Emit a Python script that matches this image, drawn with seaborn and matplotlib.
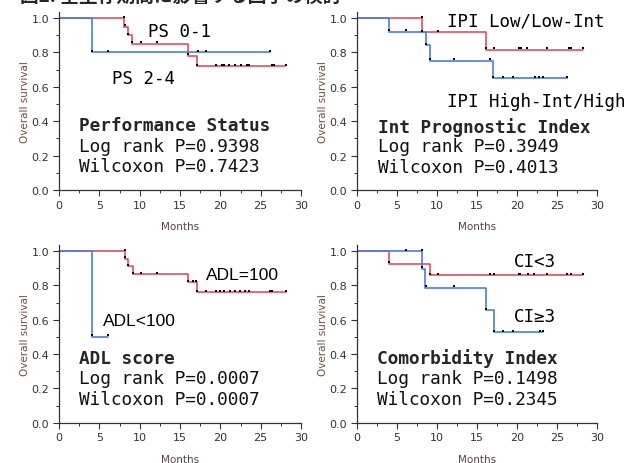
import numpy as np
import pandas as pd
import seaborn as sns
import matplotlib.pyplot as plt
from matplotlib.ticker import MultipleLocator
from matplotlib.transforms import offset_copy

# Kaplan-Meier curves (months, survival), steps-post
ps01_t = [0, 8.1, 8.55, 9.1, 16.05, 17.05, 28.0]
ps01_s = [1.0, 0.95, 0.90, 0.85, 0.78, 0.72, 0.72]
ps01_ct = [8.1, 8.2, 8.6, 9.1, 10.2, 12.1, 16.05, 17.05, 19.5, 20.2, 20.4,
           21.1, 21.8, 22.6, 23.3, 23.6, 26.4, 26.6, 28.1]
ps01_cs = [1.0, 0.95, 0.90, 0.85, 0.85, 0.85, 0.78] + [0.72] * 12
ps24_t = [0, 4.1, 26.1]
ps24_s = [1.0, 0.80, 0.80]
ps24_ct = [4.1, 6.1, 17.2, 18.2, 26.1]
ps24_cs = [0.80] * 5

ipilo_t = [0, 8.15, 16.1, 28.2]
ipilo_s = [1.0, 0.917, 0.816, 0.816]
ipilo_ct = [8.15, 8.15, 10.1, 16.1, 17.1, 20.3, 20.5, 21.3, 23.7, 26.5, 26.7, 28.2]
ipilo_cs = [1.0, 0.917, 0.917] + [0.816] * 9
ipihi_t = [0, 4.05, 8.6, 9.1, 17.0, 26.2]
ipihi_s = [1.0, 0.92, 0.843, 0.752, 0.649, 0.649]
ipihi_ct = [4.05, 6.1, 8.6, 9.1, 12.1, 16.7, 17.0, 18.3, 19.5, 22.2, 22.8, 23.3, 26.2]
ipihi_cs = [0.92, 0.92, 0.843, 0.752, 0.752, 0.752] + [0.649] * 7

adl100_t = [0, 8.14, 8.6, 9.13, 16.0, 17.06, 28.1]
adl100_s = [1.0, 0.955, 0.911, 0.864, 0.819, 0.759, 0.759]
adl100_ct = [8.14, 8.2, 8.6, 9.13, 10.2, 12.1, 16.0, 16.65, 17.0, 17.06, 18.2, 19.5,
             20.0, 20.4, 21.2, 21.8, 22.4, 23.0, 23.5, 26.1, 26.4, 28.1]
adl100_cs = [1.0, 0.955, 0.911, 0.864, 0.864, 0.864, 0.819, 0.819, 0.819] + [0.759] * 13
adllow_t = [0, 4.13, 6.1]
adllow_s = [1.0, 0.5, 0.5]
adllow_ct = [4.13, 6.1]
adllow_cs = [0.5, 0.5]

cilo_t = [0, 4.03, 9.1, 28.2]
cilo_s = [1.0, 0.926, 0.858, 0.858]
cilo_ct = [4.03, 9.1, 10.2, 16.7, 17.2, 20.2, 20.4, 21.4, 22.1, 23.7, 26.3, 26.7, 28.2]
cilo_cs = [0.926] + [0.858] * 12
cihi_t = [0, 8.15, 8.5, 16.1, 17.1, 23.3]
cihi_s = [1.0, 0.897, 0.785, 0.655, 0.528, 0.528]
cihi_ct = [6.1, 8.15, 8.15, 8.6, 12.1, 16.1, 17.1, 18.3, 19.5, 22.9, 23.3]
cihi_cs = [1.0, 1.0, 0.897, 0.785, 0.785, 0.655] + [0.528] * 5

titles = ['Performance Status', 'Int Prognostic Index', 'ADL score', 'Comorbidity Index']
logrank = ['0.9398', '0.3949', '0.0007', '0.1498']
wilcoxon = ['0.7423', '0.4013', '0.0007', '0.2345']

RED = '#e0505e'
BLUE = '#4a7de0'

sns.set_style('ticks')
plt.rcParams['font.family'] = ['DejaVu Sans', 'Noto Sans CJK JP']

MONO = 'DejaVu Sans Mono'


def draw_panel(ax, red, blue, title, lr, wx, red_lab, blue_lab, fs_lab=12.6, lab_family=MONO):
    frames = []
    for name, (t, s, _, _) in (('red', red), ('blue', blue)):
        frames.append(pd.DataFrame({'Months': t, 'Survival': s, 'Group': name}))
    df = pd.concat(frames)
    sns.lineplot(data=df, x='Months', y='Survival', hue='Group',
                 palette={'red': RED, 'blue': BLUE}, estimator=None, sort=False,
                 drawstyle='steps-post', linewidth=1.2, legend=False, ax=ax)
    # censoring marks
    cens = pd.DataFrame({'Months': list(red[2]) + list(blue[2]),
                         'Survival': list(red[3]) + list(blue[3])})
    sns.scatterplot(data=cens, x='Months', y='Survival', marker='s', s=3,
                    color='black', linewidth=0, ax=ax, zorder=5)
    ax.collections[-1].set_offset_transform(
        offset_copy(ax.transData, fig=ax.figure, y=1.5, units='dots'))

    ax.set_xlim(0, 30)
    ax.set_ylim(0, 1.035)
    ax.xaxis.set_major_locator(MultipleLocator(5))
    ax.xaxis.set_minor_locator(MultipleLocator(2.5))
    ax.yaxis.set_minor_locator(MultipleLocator(0.1))
    ax.set_yticks(np.arange(0, 1.01, 0.2))
    ax.set_yticklabels(['%.1f' % v for v in np.arange(0, 1.01, 0.2)])
    ax.tick_params(which='major', direction='out', length=4, width=0.8,
                   labelsize=8, colors='#333333', pad=3)
    ax.tick_params(which='minor', direction='out', length=2, width=0.7, colors='#333333')
    for sp in ('top', 'right'):
        ax.spines[sp].set_visible(False)
    for sp in ('left', 'bottom'):
        ax.spines[sp].set_color('#333333')
        ax.spines[sp].set_linewidth(0.9)
    ax.set_xlabel('Months', fontsize=7.5, color='#5a4048')
    ax.set_ylabel('Overall survival', fontsize=7.5, color='#6a5040')
    ax.xaxis.set_label_coords(0.5, -0.175)
    ax.yaxis.set_label_coords(-0.12, 0.5)

    for (txt, x, y) in (red_lab, blue_lab):
        ax.text(x, y, txt, fontsize=fs_lab, family=lab_family, va='center', ha='left',
                color='black')
    ax.text(title[1], title[2], title[0], fontsize=12.8, family=MONO,
            weight='bold', va='center', ha='left')
    ax.text(title[1], lr[1], 'Log rank P=' + lr[0], fontsize=12.8, family=MONO,
            va='center', ha='left', color='#111111')
    ax.text(title[1], wx[1], 'Wilcoxon P=' + wx[0], fontsize=12.8, family=MONO,
            va='center', ha='left', color='#111111')


fig = plt.figure(figsize=(6.28, 4.64), dpi=100)
W, H = 628.0, 464.0
top_h = 172 * 1.035 / H
bot_h = 171.7 * 1.035 / H
ax1 = fig.add_axes([59 / W, 1 - 191 / H, 242 / W, top_h])
ax2 = fig.add_axes([356.7 / W, 1 - 191 / H, 240.3 / W, top_h])
ax3 = fig.add_axes([59 / W, 1 - 423.7 / H, 242 / W, bot_h])
ax4 = fig.add_axes([356.7 / W, 1 - 423.7 / H, 240.3 / W, bot_h])

draw_panel(ax1, (ps01_t, ps01_s, ps01_ct, ps01_cs), (ps24_t, ps24_s, ps24_ct, ps24_cs),
           (titles[0], 2.5, 0.378), (logrank[0], 0.258), (wilcoxon[0], 0.14),
           ('PS 0-1', 11.0, 0.924), ('PS 2-4', 6.6, 0.651))
draw_panel(ax2, (ipilo_t, ipilo_s, ipilo_ct, ipilo_cs), (ipihi_t, ipihi_s, ipihi_ct, ipihi_cs),
           (titles[1], 2.66, 0.372), (logrank[1], 0.256), (wilcoxon[1], 0.134),
           ('IPI Low/Low-Int', 11.3, 0.983), ('IPI High-Int/High', 11.3, 0.517))
draw_panel(ax3, (adl100_t, adl100_s, adl100_ct, adl100_cs), (adllow_t, adllow_s, adllow_ct, adllow_cs),
           (titles[2], 2.5, 0.377), (logrank[2], 0.26), (wilcoxon[2], 0.138),
           ('ADL=100', 18.2, 0.866), ('ADL<100', 5.45, 0.593),
           fs_lab=12.5, lab_family='Liberation Sans')
draw_panel(ax4, (cilo_t, cilo_s, cilo_ct, cilo_cs), (cihi_t, cihi_s, cihi_ct, cihi_cs),
           (titles[3], 2.53, 0.377), (logrank[3], 0.26), (wilcoxon[3], 0.138),
           ('CI<3', 19.6, 0.942), ('CI≥3', 19.6, 0.621))

# figure heading, mostly cropped off at the top edge in the reference
fig.text(20 / W, 1 - 2 / H, '図2. 全生存期間に影響する因子の検討', fontsize=13.5,
         family=['Noto Sans CJK JP'], weight='bold', va='baseline', ha='left')

fig.savefig('out.png', dpi=100)
